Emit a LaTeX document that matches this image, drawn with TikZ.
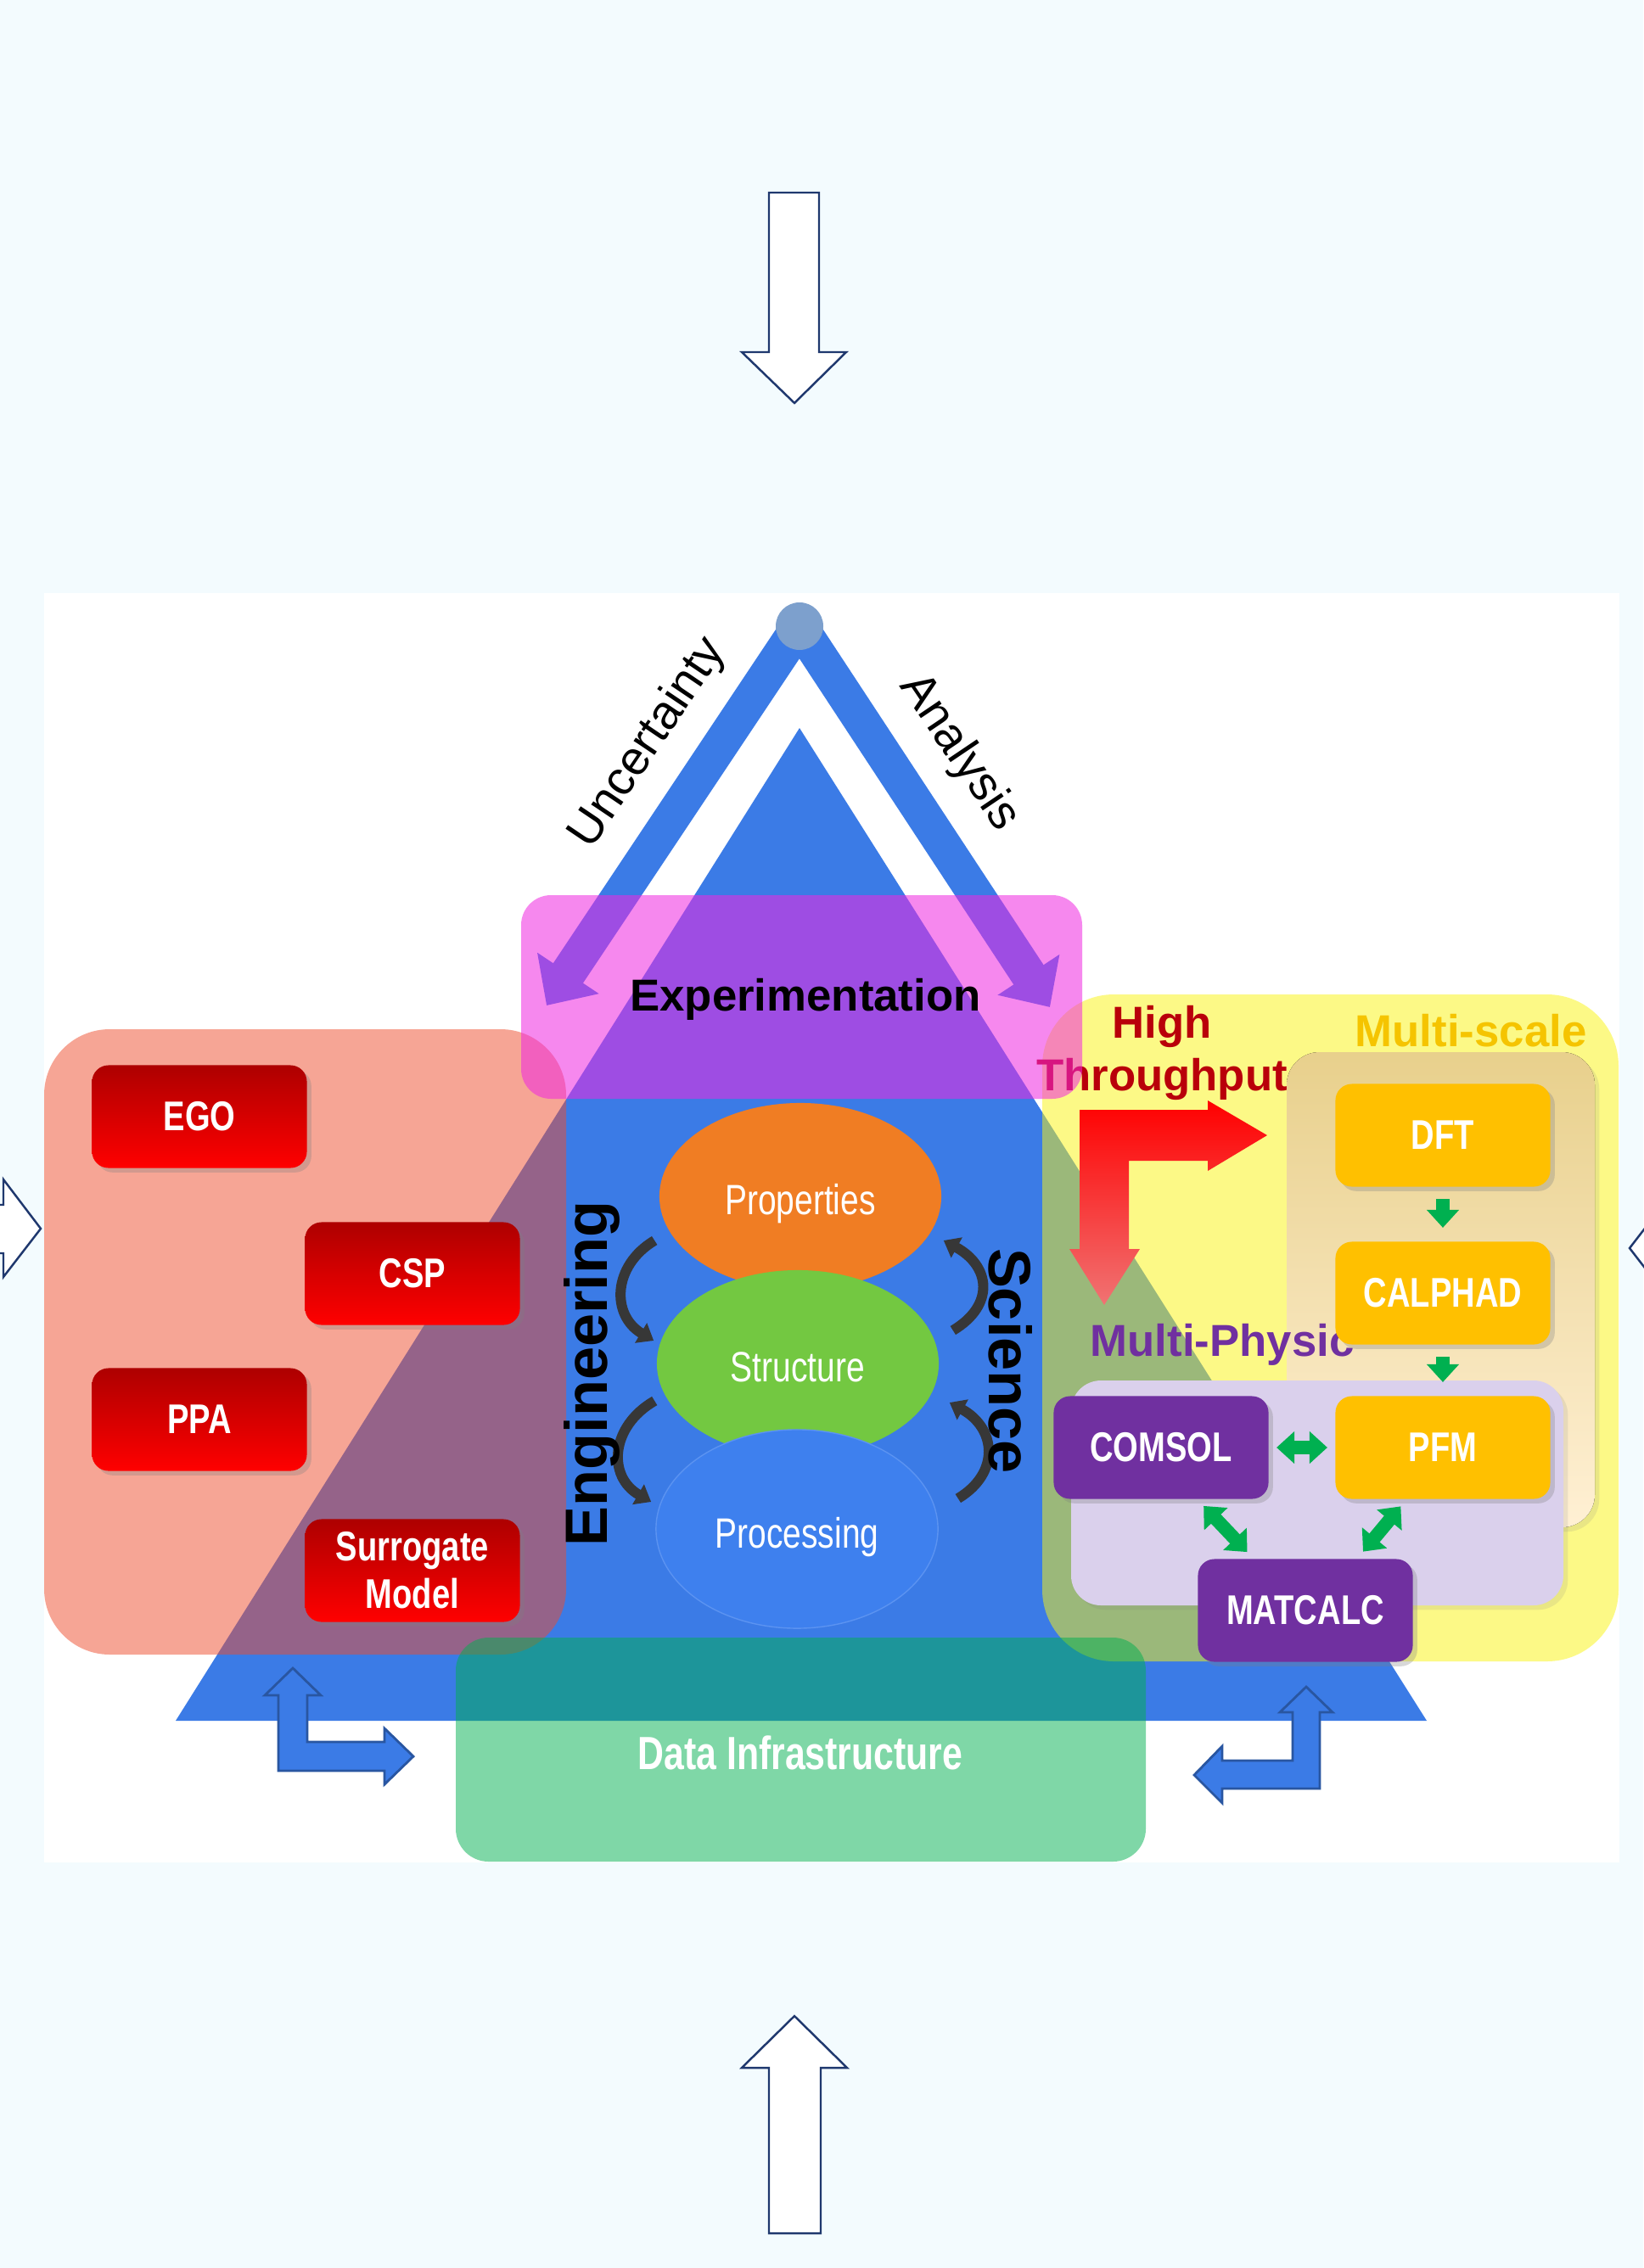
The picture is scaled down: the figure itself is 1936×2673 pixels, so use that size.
\documentclass[tikz,border=0pt]{standalone}
\usepackage{fontspec}
\setmainfont{Liberation Sans}
\newfontfamily\narrowsf[FakeStretch=0.78]{Liberation Sans}
\usetikzlibrary{arrows.meta,shapes.geometric,shadows}
\definecolor{pagebg}{RGB}{243,251,254}
\definecolor{navy}{RGB}{31,56,110}
\definecolor{triblue}{RGB}{59,123,230}
\definecolor{apexgrey}{RGB}{125,160,205}
\definecolor{magentax}{RGB}{240,40,225}
\definecolor{salmonx}{RGB}{239,77,45}
\definecolor{lemon}{RGB}{251,245,15}
\definecolor{leaf}{RGB}{0,176,80}
\definecolor{gold}{RGB}{255,192,0}
\definecolor{plum}{RGB}{112,48,160}
\definecolor{lavender}{RGB}{218,208,236}
\definecolor{htred}{RGB}{185,0,10}
\definecolor{msgold}{RGB}{245,196,0}
\definecolor{darkgrey}{RGB}{55,55,55}
\definecolor{propfill}{RGB}{240,125,35}
\definecolor{strfill}{RGB}{115,200,65}
\definecolor{procfill}{RGB}{62,128,238}

\begin{document}
\begin{tikzpicture}[x=0.01cm, y=-0.01cm,
	lbl/.style={font=\narrowsf\bfseries\fontsize{13.9}{16}\selectfont, text=white, align=center},
	tool/.style={lbl, rounded corners=5.5pt, minimum width=2.53cm, minimum height=1.21cm, inner sep=0pt, drop shadow={opacity=0.3, shadow xshift=1.5pt, shadow yshift=-1.5pt}},
	redtool/.style={tool, top color=red!68!black, bottom color=red},
	goldtool/.style={tool, fill=gold},
	plumtool/.style={tool, fill=plum},
	oval/.style={ellipse, minimum width=3.32cm, minimum height=2.2cm, inner sep=0pt, text=white, text height=1.45em, text depth=0.2em, font=\narrowsf\fontsize{14.2}{17}\selectfont},
	title/.style={font=\bfseries\fontsize{15}{17.5}\selectfont, align=center, inner sep=0pt},
	hollow/.style={fill=white, draw=navy, line width=0.7pt},
	arm/.style={draw=triblue, line width=12pt, line join=round, {Triangle[length=13pt,width=24pt]}-{Triangle[length=13pt,width=24pt]}},
	cyc/.style={draw=darkgrey, line width=3.4pt, -{Triangle[length=5pt,width=7.5pt]}},
	flow/.style={draw=leaf, line width=4.5pt, -{Triangle[length=6pt,width=10.5pt]}},
	flowboth/.style={flow, {Triangle[length=6pt,width=10.5pt]}-{Triangle[length=6pt,width=10.5pt]}},
	bluel/.style={fill=triblue, draw=triblue!70!black, line width=0.8pt}]
	\useasboundingbox (0,0) rectangle (1936,2673);
	\fill[pagebg] (0,0) rectangle (1936,2673);
	\fill[white] (52,699) rectangle (1908,2195);

	\draw[hollow] (906,227) -- (965,227) -- (965,415) -- (997,415) -- (936,475) -- (874,415) -- (906,415) -- cycle;
	\draw[hollow] (906,2632) -- (967,2632) -- (967,2437) -- (998,2437) -- (936,2376) -- (874,2437) -- (906,2437) -- cycle;
	\draw[hollow] (-100,1420) -- (4,1420) -- (4,1390) -- (48,1448) -- (4,1505) -- (4,1477) -- (-100,1477) -- cycle;
	\draw[hollow] (2100,1443) -- (1964,1443) -- (1964,1414) -- (1920,1471) -- (1964,1528) -- (1964,1500) -- (2100,1500) -- cycle;

	\coordinate (apex) at (942,738);
	\coordinate (tipL) at (644,1185);
	\coordinate (tipR) at (1237,1187);
	\draw[arm] (tipL) -- (apex) -- (tipR);
	\fill[apexgrey] (apex) circle (28);
	\node[rotate=56, font=\fontsize{16}{19}\selectfont] (unc) at (764,876) {Uncertainty};
	\node[rotate=-56, font=\fontsize{16}{19}\selectfont] (ana) at (1130,887) {Analysis};

	\fill[triblue] (942,858) -- (1681,2028) -- (207,2028) -- cycle;

	\fill[salmonx, fill opacity=0.5, rounded corners=22pt] (52,1213) rectangle (667,1950);
	\fill[lemon, fill opacity=0.5, rounded corners=24pt] (1228,1172) rectangle (1907,1958);
	\node[title, text=htred] (ht) at (1369,1241) {High\\Throughput};
	\fill[magentax, fill opacity=0.55, rounded corners=10pt] (614,1055) rectangle (1275,1295);
	\fill[leaf, fill opacity=0.5, rounded corners=11pt] (537,1930) rectangle (1350,2194);

	\node[oval, fill=propfill] (prop) at (943,1410) {Properties};
	\node[oval, fill=strfill] (str) at (940,1607) {Structure};
	\node[oval, fill=procfill, draw=procfill!85!white, minimum height=2.34cm] (proc) at (939,1802) {Processing};
	\draw[cyc] ([shift={(-5,52)}]prop.west) .. controls +(-50,30) and +(-50,-30) .. ([shift={(-3,-27)}]str.west);
	\draw[cyc] ([shift={(-2,44)}]str.west) .. controls +(-52,30) and +(-52,-30) .. ([shift={(-5,-32)}]proc.west);
	\draw[cyc] ([shift={(16,-39)}]str.east) .. controls +(50,-30) and +(55,30) .. ([shift={(2,52)}]prop.east);
	\draw[cyc] ([shift={(23,-36)}]proc.east) .. controls +(50,-30) and +(55,30) .. ([shift={(12,46)}]str.east);
	\node[rotate=90, font=\bfseries\fontsize{20}{24}\selectfont] (eng) at (697,1619) {Engineering};
	\node[rotate=-90, font=\bfseries\fontsize{20}{24}\selectfont] (sci) at (1191,1604) {Science};
	\node[title] (exp) at (949,1178) {Experimentation};

	\node[redtool] (ego) at (235,1316) {EGO};
	\node[redtool] (csp) at (486,1501) {CSP};
	\node[redtool] (ppa) at (235,1673) {PPA};
	\node[redtool] (sur) at (486,1851) {Surrogate\\Model};

	\fill[rounded corners=11pt, top color={rgb,255:red,232;green,208;blue,140}, bottom color={rgb,255:red,255;green,240;blue,212}, drop shadow={opacity=0.15, shadow xshift=1.5pt, shadow yshift=-1.5pt}] (1516,1240) rectangle (1879,1800);
	\fill[lavender, rounded corners=10pt, drop shadow={opacity=0.15, shadow xshift=1.5pt, shadow yshift=-1.5pt}] (1262,1627) rectangle (1842,1892);
	\node[title, text=msgold] (ms) at (1733,1215) {Multi-scale};
	\node[title, text=plum] (mp) at (1440,1585) {Multi-Physic};
	\node[goldtool] (dft) at (1700,1338) {DFT};
	\node[goldtool] (calphad) at (1700,1524) {CALPHAD};
	\node[goldtool] (pfm) at (1700,1706) {PFM};
	\node[plumtool] (comsol) at (1368,1706) {COMSOL};
	\node[plumtool] (matcalc) at (1538,1898) {MATCALC};
	\draw[flow, shorten <=4pt, shorten >=4.5pt] (dft) -- (calphad);
	\draw[flow, shorten <=4pt, shorten >=4.5pt] (calphad) -- (pfm);
	\draw[flowboth, shorten <=2.5pt, shorten >=2.5pt] (comsol) -- (pfm);
	\draw[flowboth, shorten <=3pt, shorten >=3pt] (comsol.-55) -- (matcalc.135);
	\draw[flowboth, shorten <=3pt, shorten >=3pt] (pfm.235) -- (matcalc.45);

	\shade[top color=red, bottom color={rgb,255:red,240;green,115;blue,115}] (1272,1308) -- (1423,1308) -- (1423,1297) -- (1493,1338) -- (1423,1380) -- (1423,1368) -- (1330,1368) -- (1330,1472) -- (1343,1472) -- (1301,1538) -- (1260,1472) -- (1272,1472) -- cycle;

	\draw[bluel] (345,1966) -- (378,1998) -- (362,1998) -- (362,2053) -- (453,2053) -- (453,2037) -- (487,2070) -- (453,2103) -- (453,2087) -- (328,2087) -- (328,1998) -- (312,1998) -- cycle;
	\draw[bluel] (1539,1988) -- (1570,2018) -- (1555,2018) -- (1555,2108) -- (1440,2108) -- (1440,2125) -- (1407,2092) -- (1440,2058) -- (1440,2075) -- (1523,2075) -- (1523,2018) -- (1508,2018) -- cycle;
	\node[lbl, font=\narrowsf\bfseries\fontsize{15.6}{18}\selectfont] (data) at (943,2066) {Data Infrastructure};
\end{tikzpicture}
\end{document}
